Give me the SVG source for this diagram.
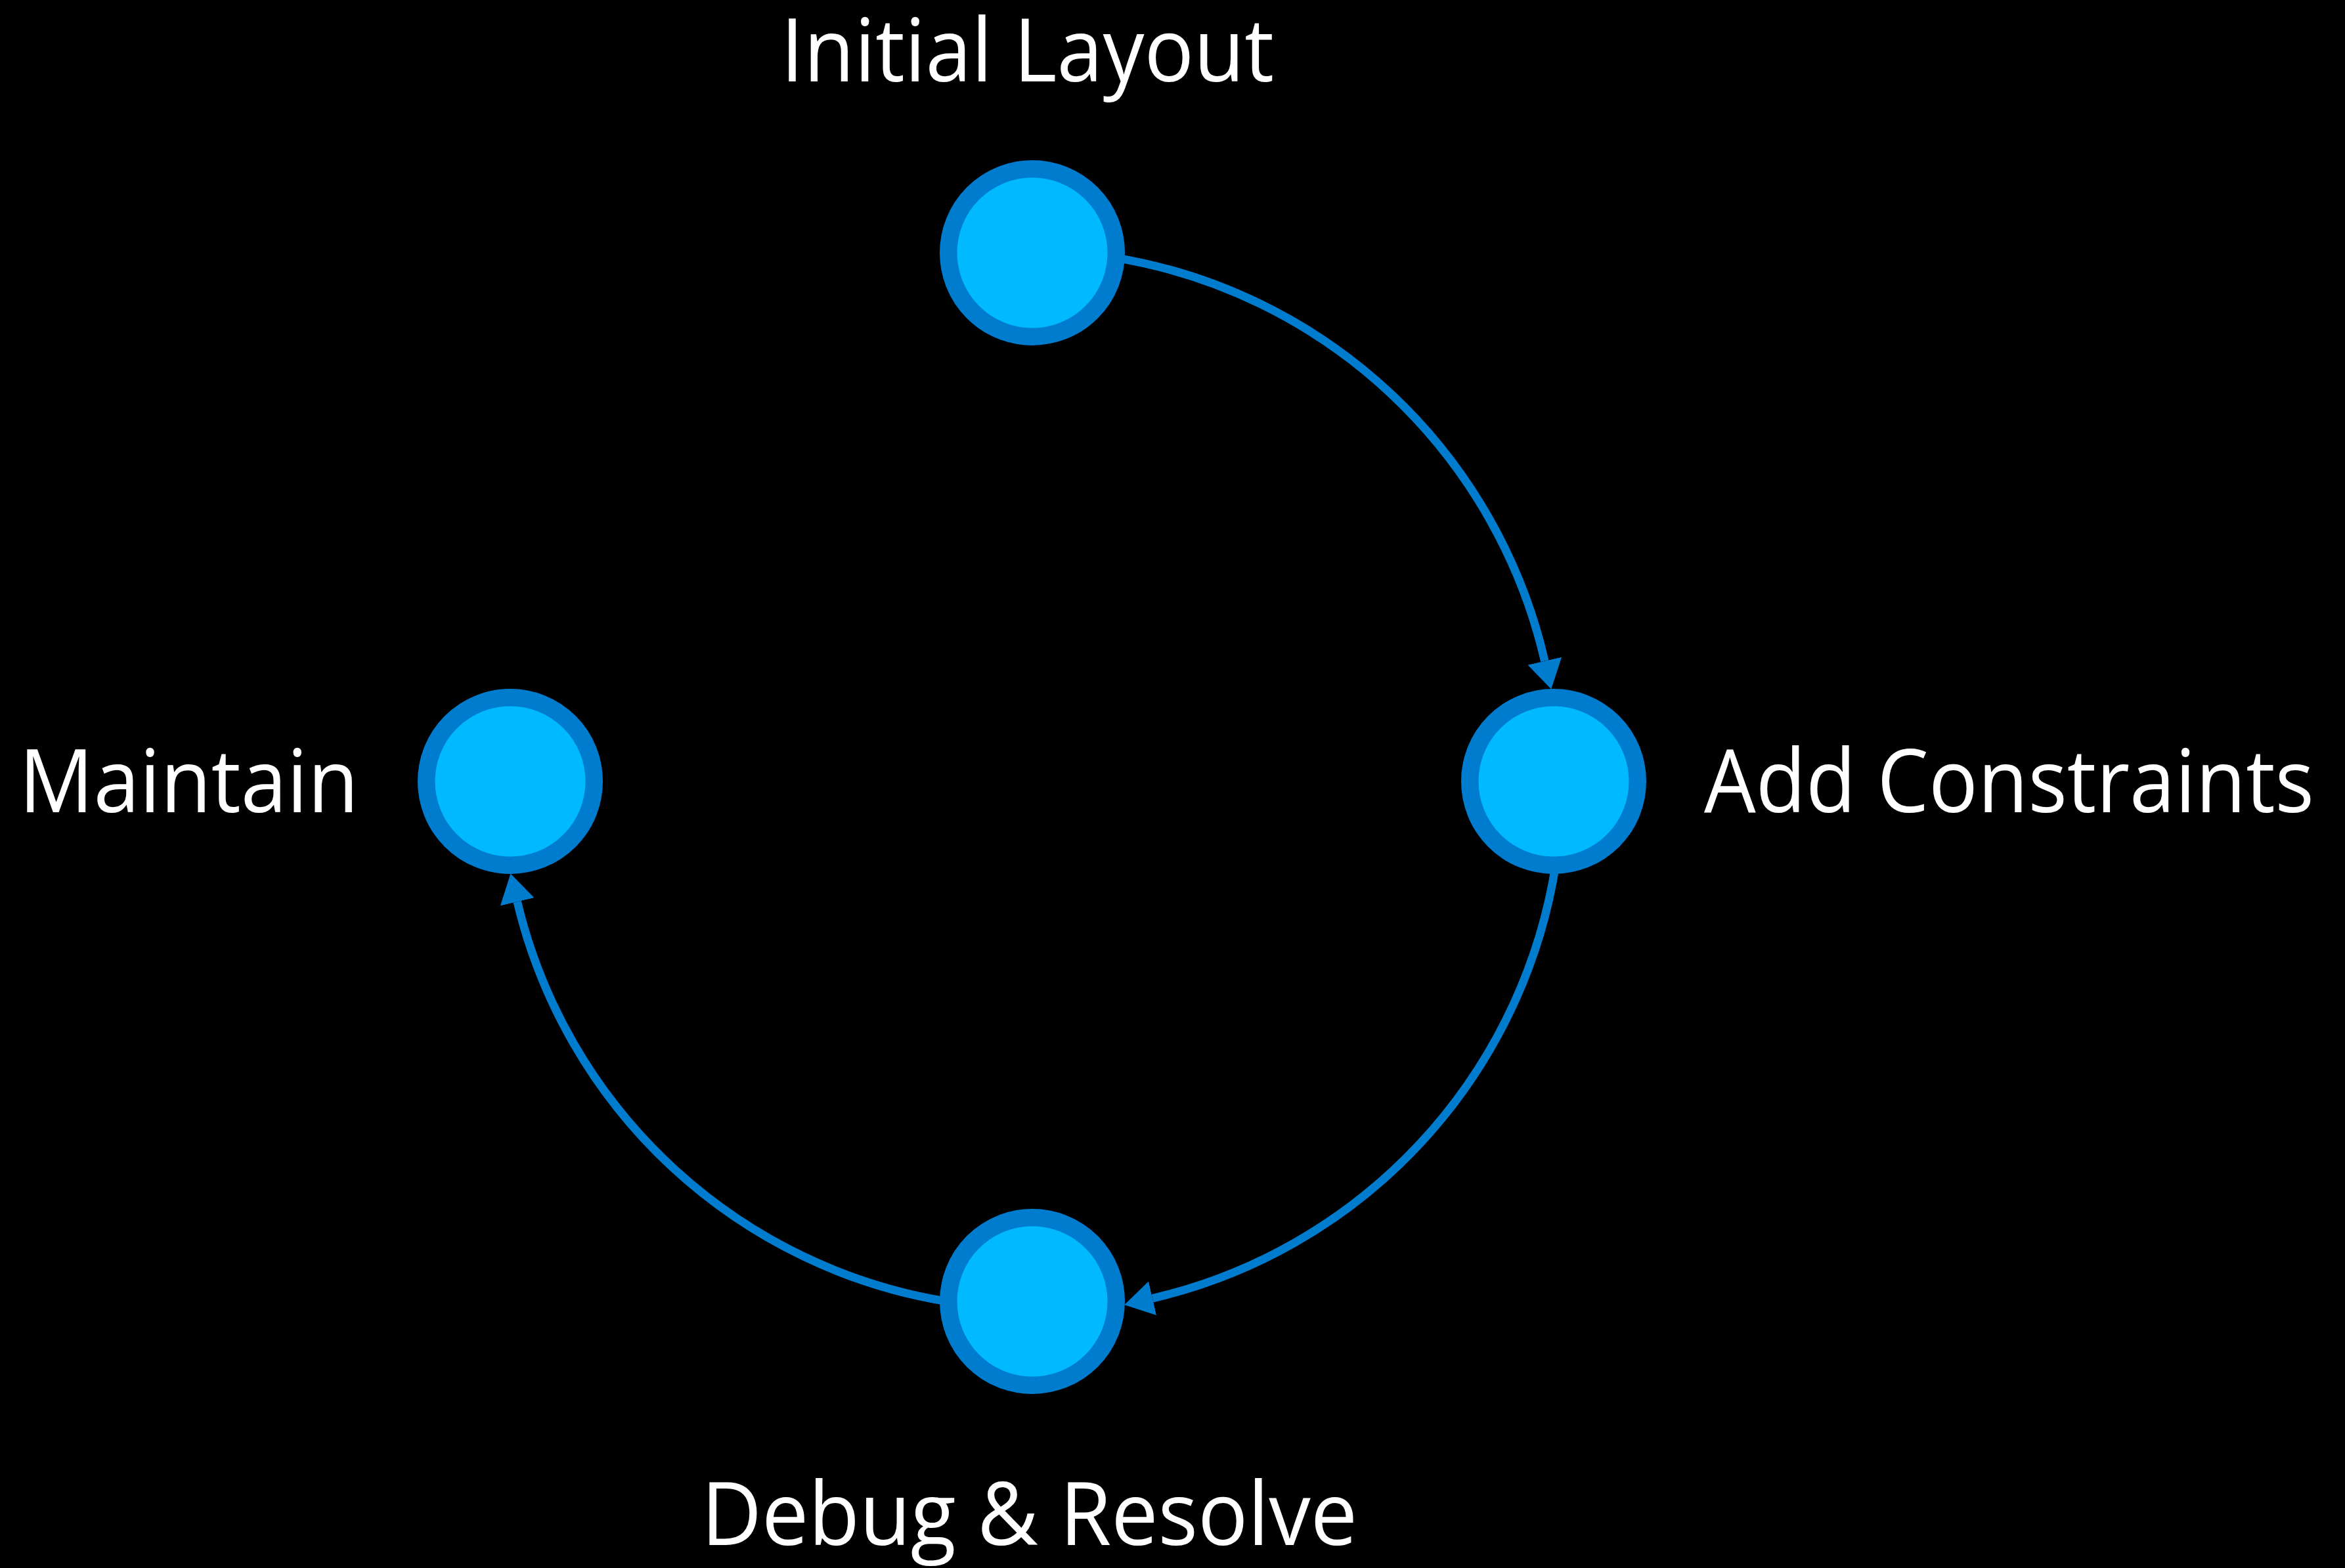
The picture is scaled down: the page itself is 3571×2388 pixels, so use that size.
<svg xmlns="http://www.w3.org/2000/svg" width="3571" height="2388" viewBox="0 0 3571 2388">
  <style>
    .ring { fill: #00B9FF; stroke: #007CCF; stroke-width: 26.5; }
    .conn { fill: none; stroke: #007CCF; stroke-width: 12.5; }
    .label { fill: #FFFFFF; font-family: "Open Sans", "Noto Sans", "Liberation Sans", sans-serif; font-size: 134px; }
  </style>
  <defs>
    <marker id="arrow" markerUnits="userSpaceOnUse" markerWidth="46" markerHeight="56" refX="0" refY="26.5" orient="auto">
      <path d="M0,0 L44,26.5 L0,53 z" fill="#007CCF"/>
    </marker>
  </defs>
  <rect x="0" y="0" width="3571" height="2388" fill="#000000"/>
  <g id="connectors">
    <path class="conn" d="M1698.9,392.6 A806,806 0 0 1 2352.3,1006.7" marker-end="url(#arrow)"/>
    <path class="conn" d="M2369,1317 A806,806 0 0 1 1755,1977.3" marker-end="url(#arrow)"/>
    <path class="conn" d="M1444.5,1982.4 A806,806 0 0 1 787.7,1373.3" marker-end="url(#arrow)"/>
  </g>
  <g id="node-initial-layout">
    <circle class="ring" cx="1572" cy="385" r="127.75"/>
    <text class="label" x="1189" y="124" textLength="751" lengthAdjust="spacingAndGlyphs">Initial Layout</text>
  </g>
  <g id="node-add-constraints">
    <circle class="ring" cx="2366" cy="1190" r="127.75"/>
    <text class="label" x="2595" y="1237" textLength="929" lengthAdjust="spacingAndGlyphs">Add Constraints</text>
  </g>
  <g id="node-debug-resolve">
    <circle class="ring" cx="1572" cy="1982" r="127.75"/>
    <text class="label" x="1068" y="2353" textLength="999" lengthAdjust="spacingAndGlyphs">Debug &amp; Resolve</text>
  </g>
  <g id="node-maintain">
    <circle class="ring" cx="777" cy="1190" r="127.75"/>
    <text class="label" x="29" y="1237" textLength="517" lengthAdjust="spacingAndGlyphs">Maintain</text>
  </g>
</svg>
